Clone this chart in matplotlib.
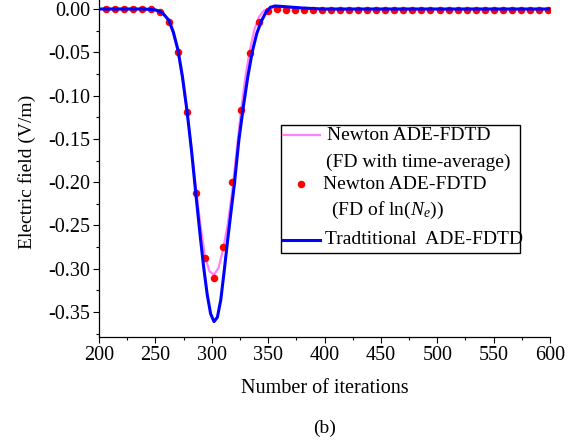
# Electric field vs. number of iterations, Newton ADE-FDTD vs traditional ADE-FDTD (panel b)
import matplotlib
matplotlib.use("Agg")
import matplotlib.pyplot as plt
from matplotlib.lines import Line2D
from matplotlib.patches import Rectangle
from matplotlib.ticker import MultipleLocator, FormatStrFormatter

plt.rcParams["font.family"] = ["Liberation Serif", "DejaVu Serif"]
plt.rcParams["mathtext.fontset"] = "custom"
plt.rcParams["mathtext.rm"] = "Liberation Serif"
plt.rcParams["mathtext.it"] = "Liberation Serif:italic"
plt.rcParams["axes.unicode_minus"] = False

# traditional ADE-FDTD (blue line)
trad_n = [200, 240, 250, 256, 262, 266, 270, 274, 278, 282, 286, 290, 293, 296, 299,
          302, 305, 308, 311, 314, 317, 320, 324, 328, 332, 336, 340, 344, 348, 352,
          356, 362, 370, 380, 398, 600]
trad_e = [0.0, 0.0, -0.001, -0.004, -0.013, -0.027, -0.047, -0.078, -0.117, -0.163,
          -0.215, -0.265, -0.300, -0.330, -0.352, -0.361, -0.356, -0.336, -0.303,
          -0.268, -0.235, -0.203, -0.152, -0.113, -0.078, -0.049, -0.028, -0.014,
          -0.004, 0.002, 0.0035, 0.003, 0.0022, 0.0012, 0.0, 0.0]

# Newton ADE-FDTD, FD with time-average (pink line)
avg_n = [200, 240, 250, 256, 262, 266, 270, 274, 278, 282, 286, 290, 294, 298, 302,
         306, 310, 314, 318, 322, 326, 330, 334, 338, 342, 346, 350, 356, 365, 380,
         400, 600]
avg_e = [0.0, 0.0, -0.001, -0.004, -0.014, -0.029, -0.049, -0.081, -0.118, -0.160,
         -0.207, -0.250, -0.286, -0.303, -0.307, -0.299, -0.278, -0.250, -0.212,
         -0.165, -0.117, -0.077, -0.046, -0.023, -0.009, -0.002, 0.0, 0.002, 0.002,
         0.001, 0.0, 0.0]

# Newton ADE-FDTD, FD of ln(Ne) (red dots, every 8 iterations from 206)
ln_n = list(range(206, 599, 8))
ln_e = [-0.0004, -0.0004, -0.0004, -0.0004, -0.0004, -0.0004,
        -0.004, -0.015, -0.050, -0.119, -0.212, -0.288, -0.311, -0.275,
        -0.200, -0.117, -0.051, -0.015, -0.002, 0.0,
        -0.001, -0.001, -0.001, -0.001, -0.001, -0.001, -0.001, -0.001, -0.001, -0.001,
        -0.001, -0.001, -0.001, -0.001, -0.001, -0.001, -0.001, -0.001, -0.001, -0.001,
        -0.001, -0.001, -0.001, -0.001, -0.001, -0.001, -0.001, -0.001, -0.001, -0.001]

PINK = "#ff80ff"
RED = "#ff0000"
BLUE = "#0000ff"
W, H = 581, 446


def fpos(x, y):
    """pixel position in the 581x446 picture -> figure fraction"""
    return x / W, 1 - y / H


fig = plt.figure(figsize=(W / 100, H / 100), dpi=100)
ax = fig.add_axes([99 / W, 1 - 337 / H, 451 / W, 337 / H])

ax.plot(avg_n, avg_e, color=PINK, lw=1.6, zorder=2)
ax.plot(ln_n, ln_e, "o", color=RED, ms=5.4, mec="none", zorder=3)
ax.plot(trad_n, trad_e, color=BLUE, lw=2.2, zorder=4)

ax.set_xlim(200, 600)
ax.set_ylim(-0.3788, 0.0104)
ax.xaxis.set_major_locator(MultipleLocator(50))
ax.xaxis.set_minor_locator(MultipleLocator(25))
ax.yaxis.set_major_locator(MultipleLocator(0.05))
ax.yaxis.set_minor_locator(MultipleLocator(0.025))
ax.yaxis.set_major_formatter(FormatStrFormatter("%.2f"))
ax.spines["top"].set_visible(False)
ax.spines["right"].set_visible(False)
for s in ("left", "bottom"):
    ax.spines[s].set_linewidth(0.9)
ax.tick_params(which="major", direction="out", length=4.5, width=0.8, labelsize=14.5, pad=2)
ax.tick_params(which="minor", direction="out", length=2.5, width=0.8)

ax.set_xlabel("Number of iterations", fontsize=14.5)
ax.set_ylabel("Electric field (V/m)", fontsize=14)
ax.xaxis.set_label_coords(0.5, -0.125)
ax.yaxis.set_label_coords(-0.14, 0.49)

# legend drawn by hand so the handles sit on the first line of each entry
x0, y0 = fpos(281, 253)
x1, y1 = fpos(520, 125)
fig.add_artist(Rectangle((x0, y0), x1 - x0, y1 - y0, transform=fig.transFigure,
                         fill=False, ec="black", lw=1.0))
lx0, _ = fpos(283, 0)
lx1, _ = fpos(320, 0)
_, ly = fpos(0, 135)
fig.add_artist(Line2D([lx0, lx1], [ly, ly], transform=fig.transFigure, color=PINK, lw=1.6))
fig.text(*fpos(327, 135), "Newton ADE-FDTD", fontsize=14, va="center")
fig.text(*fpos(326, 162), "(FD with time-average)", fontsize=14, va="center")
dx, dy = fpos(301, 184)
fig.add_artist(Line2D([dx], [dy], transform=fig.transFigure, marker="o", color=RED,
                      ms=5.4, mec="none"))
fig.text(*fpos(323, 184), "Newton ADE-FDTD", fontsize=14, va="center")
fig.text(*fpos(331, 210), r"(FD of ln($N_e$))", fontsize=14, va="center")
_, ly = fpos(0, 240)
fig.add_artist(Line2D([lx0, lx1], [ly, ly], transform=fig.transFigure, color=BLUE, lw=2.2))
fig.text(*fpos(325, 240), "Tradtitional  ADE-FDTD", fontsize=14, va="center")

fig.text(*fpos(325, 428), "(b)", fontsize=14, ha="center", va="center")

fig.savefig("out.png", dpi=100)
